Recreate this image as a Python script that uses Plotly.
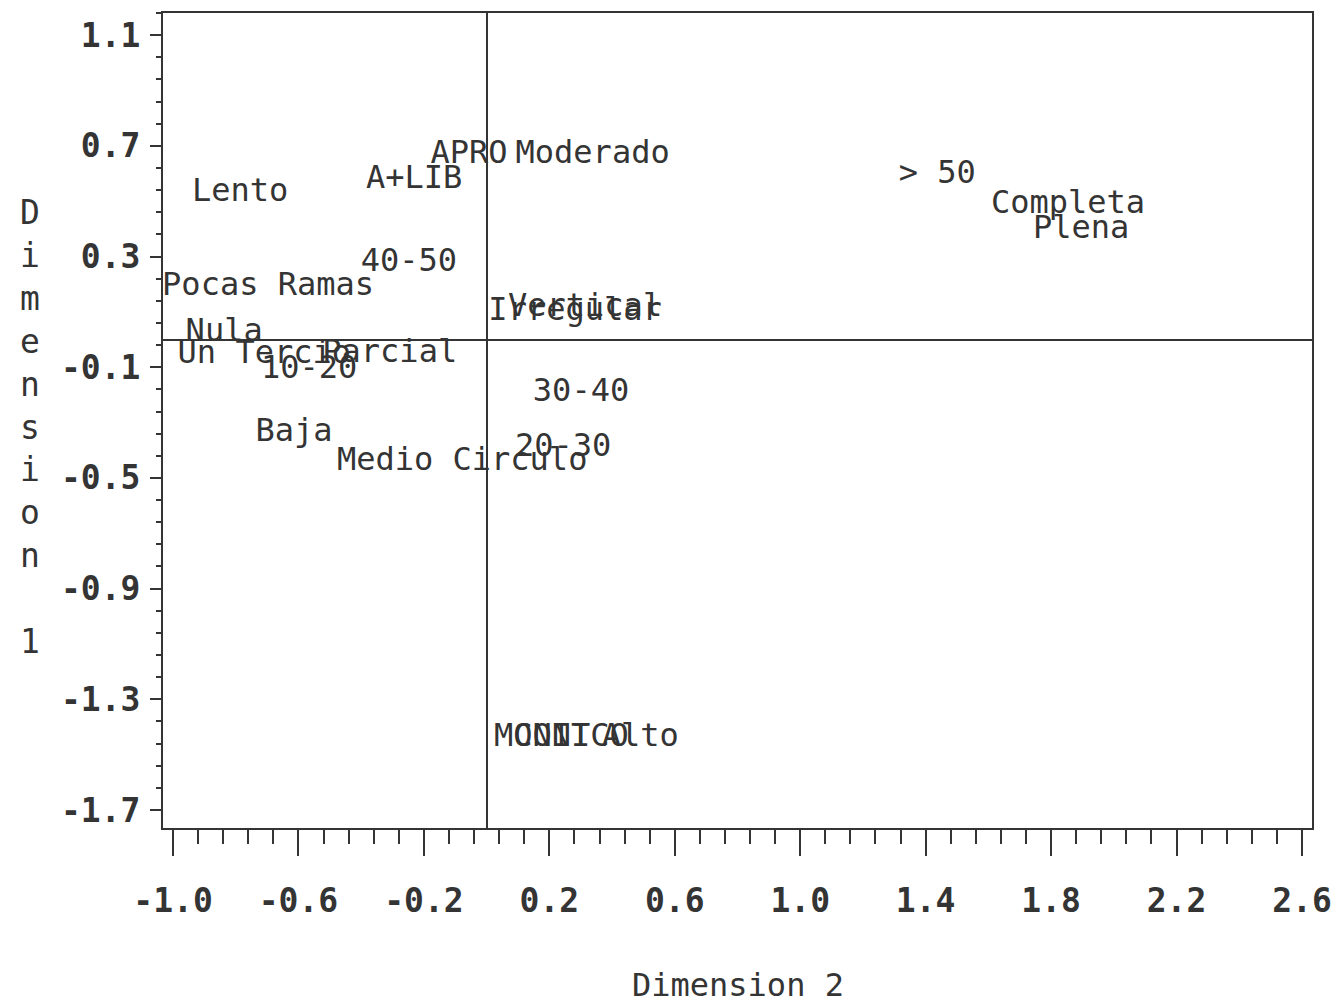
import plotly.graph_objects as go

# Correspondence analysis coordinates of each category (label centres)
labels = [
    "Lento", "A+LIB", "APRO", "Moderado", "> 50", "Completa", "Plena",
    "40-50", "Pocas Ramas", "Irregular", "Vertical", "Nula", "Un Tercio",
    "Parcial", "10-20", "30-40", "Baja", "Medio Circulo", "20-30",
    "MONIT", "CONICO", "Alto",
]
dim2 = [
    -0.786, -0.231, -0.056, 0.338, 1.437, 1.854, 1.896,
    -0.248, -0.697, 0.282, 0.314, -0.837, -0.709,
    -0.309, -0.566, 0.301, -0.614, -0.078, 0.244,
    0.177, 0.269, 0.490,
]
dim1 = [
    0.529, 0.576, 0.667, 0.667, 0.594, 0.486, 0.396,
    0.276, 0.190, 0.100, 0.115, 0.023, -0.056,
    -0.052, -0.110, -0.193, -0.338, -0.443, -0.392,
    -1.440, -1.440, -1.440,
]

x_ticks = [-1.0, -0.6, -0.2, 0.2, 0.6, 1.0, 1.4, 1.8, 2.2, 2.6]
y_ticks = [1.1, 0.7, 0.3, -0.1, -0.5, -0.9, -1.3, -1.7]
x_title = "Dimension 2"
y_title = "Dimension 1"

ink = "#343434"
mono = "DejaVu Sans Mono"

fig = go.Figure(
    go.Scatter(
        x=dim2, y=dim1, text=labels, mode="text",
        textposition="middle center",
        textfont=dict(family=mono, size=32, color=ink),
        hoverinfo="skip", showlegend=False,
    )
)

axis_common = dict(
    showgrid=False, automargin=False,
    showline=True, linecolor=ink, linewidth=2, mirror=True,
    zeroline=True, zerolinecolor=ink, zerolinewidth=2,
    ticks="outside", tickcolor=ink, tickwidth=2,
    tickfont=dict(family=mono, size=33, color=ink, weight="bold"),
)

fig.update_xaxes(
    **axis_common,
    range=[-1.032, 2.632],
    tickvals=x_ticks, ticktext=[f"{v:.1f}" for v in x_ticks],
    ticklen=26, ticklabelstandoff=16,
    minor=dict(dtick=0.08, tick0=-1.0, ticks="outside", ticklen=14,
               tickcolor=ink, tickwidth=2),
)
fig.update_yaxes(
    **axis_common,
    range=[-1.765, 1.18],
    tickvals=y_ticks, ticktext=[f"{v:.1f}" for v in y_ticks],
    ticklen=11, ticklabelstandoff=3,
    minor=dict(dtick=0.08, tick0=-1.7, ticks="outside", ticklen=5,
               tickcolor=ink, tickwidth=2),
)

fig.add_annotation(
    text=x_title, xref="paper", yref="paper", x=0.5, y=0,
    yshift=-157, xanchor="center", yanchor="middle", showarrow=False,
    font=dict(family=mono, size=32, color=ink),
)
fig.add_annotation(
    text="<br>".join(list(y_title)), xref="paper", yref="paper",
    x=0, y=0.4926, xshift=-133, xanchor="center", yanchor="middle",
    showarrow=False, align="center",
    font=dict(family=mono, size=33, color=ink),
)

fig.update_layout(
    width=1334, height=1005,
    margin=dict(l=163, r=22, t=13, b=177, autoexpand=False),
    paper_bgcolor="white", plot_bgcolor="white",
)

fig.write_html("out.html")
